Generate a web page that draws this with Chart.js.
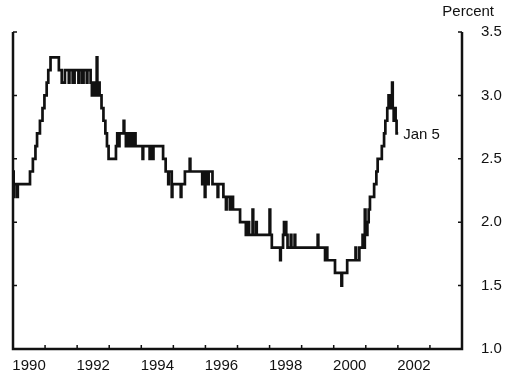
<!DOCTYPE html>
<html lang="en">
<head>
    <meta charset="UTF-8">
    <title>Percent</title>
    <script src="https://cdn.jsdelivr.net/npm/chart.js@4.4.0/dist/chart.umd.min.js"></script>
    <style>
        html, body { margin: 0; padding: 0; background: #fff; }
        #wrap { width: 505px; height: 376px; }
    </style>
</head>
<body>
    <div id="wrap"><canvas id="rateChart"></canvas></div>

    <script>
        // weekly readings, decimal year where each new level starts (step chart)
        const weeks = [
            1990.00, 1990.02, 1990.04, 1990.13, 1990.15, 1990.53, 1990.62, 1990.70, 1990.75, 1990.84,
            1990.92, 1990.98, 1991.05, 1991.10, 1991.17, 1991.43, 1991.52, 1991.62, 1991.74, 1991.76,
            1991.86, 1991.92, 1992.04, 1992.06, 1992.15, 1992.20, 1992.30, 1992.32, 1992.42, 1992.46,
            1992.50, 1992.54, 1992.56, 1992.61, 1992.63, 1992.66, 1992.70, 1992.76, 1992.82, 1992.88,
            1992.93, 1992.98, 1993.21, 1993.25, 1993.30, 1993.32, 1993.45, 1993.47, 1993.52, 1993.54,
            1993.62, 1993.64, 1993.72, 1993.74, 1993.82, 1994.04, 1994.06, 1994.26, 1994.28, 1994.36,
            1994.38, 1994.68, 1994.76, 1994.84, 1994.86, 1994.95, 1994.97, 1995.23, 1995.25, 1995.36,
            1995.51, 1995.53, 1995.90, 1995.92, 1995.98, 1996.00, 1996.08, 1996.10, 1996.22, 1996.38,
            1996.40, 1996.56, 1996.64, 1996.66, 1996.76, 1996.78, 1996.86, 1997.08, 1997.26, 1997.34,
            1997.36, 1997.47, 1997.49, 1997.58, 1997.60, 1998.00, 1998.02, 1998.07, 1998.33, 1998.35,
            1998.42, 1998.45, 1998.52, 1998.56, 1998.66, 1998.68, 1998.78, 1998.80, 1999.50, 1999.52,
            1999.73, 1999.75, 1999.80, 2000.04, 2000.24, 2000.26, 2000.42, 2000.68, 2000.70, 2000.80,
            2000.90, 2000.92, 2000.97, 2000.99, 2001.05, 2001.09, 2001.13, 2001.26, 2001.33, 2001.37,
            2001.50, 2001.57, 2001.61, 2001.67, 2001.71, 2001.75, 2001.77, 2001.82, 2001.84, 2001.87,
            2001.89, 2001.93, 2001.96, 2002.01
        ];
        const rates = [
            2.4, 2.2, 2.3, 2.2, 2.3, 2.4, 2.5, 2.6, 2.7, 2.8,
            2.9, 3.0, 3.1, 3.2, 3.3, 3.2, 3.1, 3.2, 3.1, 3.2,
            3.1, 3.2, 3.1, 3.2, 3.1, 3.2, 3.1, 3.2, 3.1, 3.0,
            3.1, 3.0, 3.1, 3.3, 3.0, 3.1, 3.0, 2.9, 2.8, 2.7,
            2.6, 2.5, 2.6, 2.7, 2.6, 2.7, 2.8, 2.7, 2.6, 2.7,
            2.6, 2.7, 2.6, 2.7, 2.6, 2.5, 2.6, 2.5, 2.6, 2.5,
            2.6, 2.5, 2.4, 2.3, 2.4, 2.2, 2.3, 2.2, 2.3, 2.4,
            2.5, 2.4, 2.3, 2.4, 2.2, 2.4, 2.3, 2.4, 2.3, 2.2,
            2.3, 2.2, 2.1, 2.2, 2.1, 2.2, 2.1, 2.0, 1.9, 2.0,
            1.9, 2.1, 1.9, 2.0, 1.9, 2.1, 1.9, 1.8, 1.7, 1.8,
            1.9, 2.0, 1.9, 1.8, 1.9, 1.8, 1.9, 1.8, 1.9, 1.8,
            1.7, 1.8, 1.7, 1.6, 1.5, 1.6, 1.7, 1.8, 1.7, 1.8,
            1.9, 1.8, 2.1, 1.9, 2.0, 2.1, 2.2, 2.3, 2.4, 2.5,
            2.6, 2.7, 2.8, 2.9, 3.0, 2.9, 3.0, 3.1, 2.9, 2.8,
            2.9, 2.8, 2.7, 2.7
        ];
        const yearLabels = ['1990', '1992', '1994', '1996', '1998', '2000', '2002'];
        const yTicks = [1.0, 1.5, 2.0, 2.5, 3.0, 3.5];
        const endNote = 'Jan 5';
        const unitLabel = 'Percent';

        const FONT = { family: '"Liberation Sans", Arial, Helvetica, sans-serif', size: 15 };
        const INK = '#111';

        // frame: left/bottom/right axis lines, inward tick marks, and the text notes
        const axisFrame = {
            id: 'axisFrame',
            afterDatasetsDraw(chart) {
                const { ctx, chartArea: a, scales: { x, y } } = chart;
                ctx.save();
                ctx.strokeStyle = INK;
                ctx.lineWidth = 2.5;
                ctx.beginPath();
                ctx.moveTo(a.left, a.top);
                ctx.lineTo(a.left, a.bottom);
                ctx.lineTo(a.right, a.bottom);
                ctx.lineTo(a.right, a.top);
                ctx.stroke();

                ctx.lineWidth = 1.5;
                ctx.beginPath();
                yTicks.forEach(v => {
                    const py = y.getPixelForValue(v);
                    ctx.moveTo(a.left, py); ctx.lineTo(a.left + 4, py);
                    ctx.moveTo(a.right, py); ctx.lineTo(a.right - 4, py);
                });
                for (let yr = x.min + 1; yr < x.max; yr++) {
                    const px = x.getPixelForValue(yr);
                    ctx.moveTo(px, a.bottom); ctx.lineTo(px, a.bottom - 4);
                }
                ctx.stroke();

                ctx.fillStyle = INK;
                ctx.font = `${FONT.size}px ${FONT.family}`;
                ctx.textBaseline = 'middle';
                const last = weeks.length - 1;
                ctx.fillText(endNote, x.getPixelForValue(weeks[last]) + 5, y.getPixelForValue(rates[last]) + 1);
                ctx.textAlign = 'right';
                ctx.fillText(unitLabel, a.right + 32, a.top - 20);
                ctx.restore();
            }
        };

        new Chart(document.getElementById('rateChart'), {
            type: 'line',
            data: {
                datasets: [{
                    data: weeks.map((w, i) => ({ x: w, y: rates[i] })),
                    borderColor: INK,
                    borderWidth: 2.7,
                    pointRadius: 0,
                    stepped: true,
                    fill: false
                }]
            },
            options: {
                responsive: true,
                maintainAspectRatio: false,
                animation: false,
                layout: { padding: { left: 13, top: 32, right: 0, bottom: 0 } },
                plugins: { legend: { display: false }, tooltip: { enabled: false } },
                scales: {
                    x: {
                        type: 'linear',
                        min: 1990,
                        max: 2004,
                        grid: { display: false },
                        border: { display: false },
                        afterBuildTicks: s => { s.ticks = yearLabels.map(l => ({ value: Number(l) + 0.5 })); },
                        afterFit: s => { s.height = 27; s.paddingLeft = 0; s.paddingRight = 0; },
                        ticks: {
                            autoSkip: false,
                            maxRotation: 0,
                            padding: 0,
                            color: INK,
                            font: FONT,
                            callback: (v, i) => yearLabels[i]
                        }
                    },
                    y: {
                        position: 'right',
                        min: 1,
                        max: 3.5,
                        grid: { display: false },
                        border: { display: false },
                        afterBuildTicks: s => { s.ticks = yTicks.map(v => ({ value: v })); },
                        afterFit: s => { s.width = 43; s.paddingTop = 0; s.paddingBottom = 0; },
                        ticks: {
                            padding: 11,
                            color: INK,
                            font: FONT,
                            callback: v => v.toFixed(1)
                        }
                    }
                }
            },
            plugins: [axisFrame]
        });
    </script>
</body>
</html>
